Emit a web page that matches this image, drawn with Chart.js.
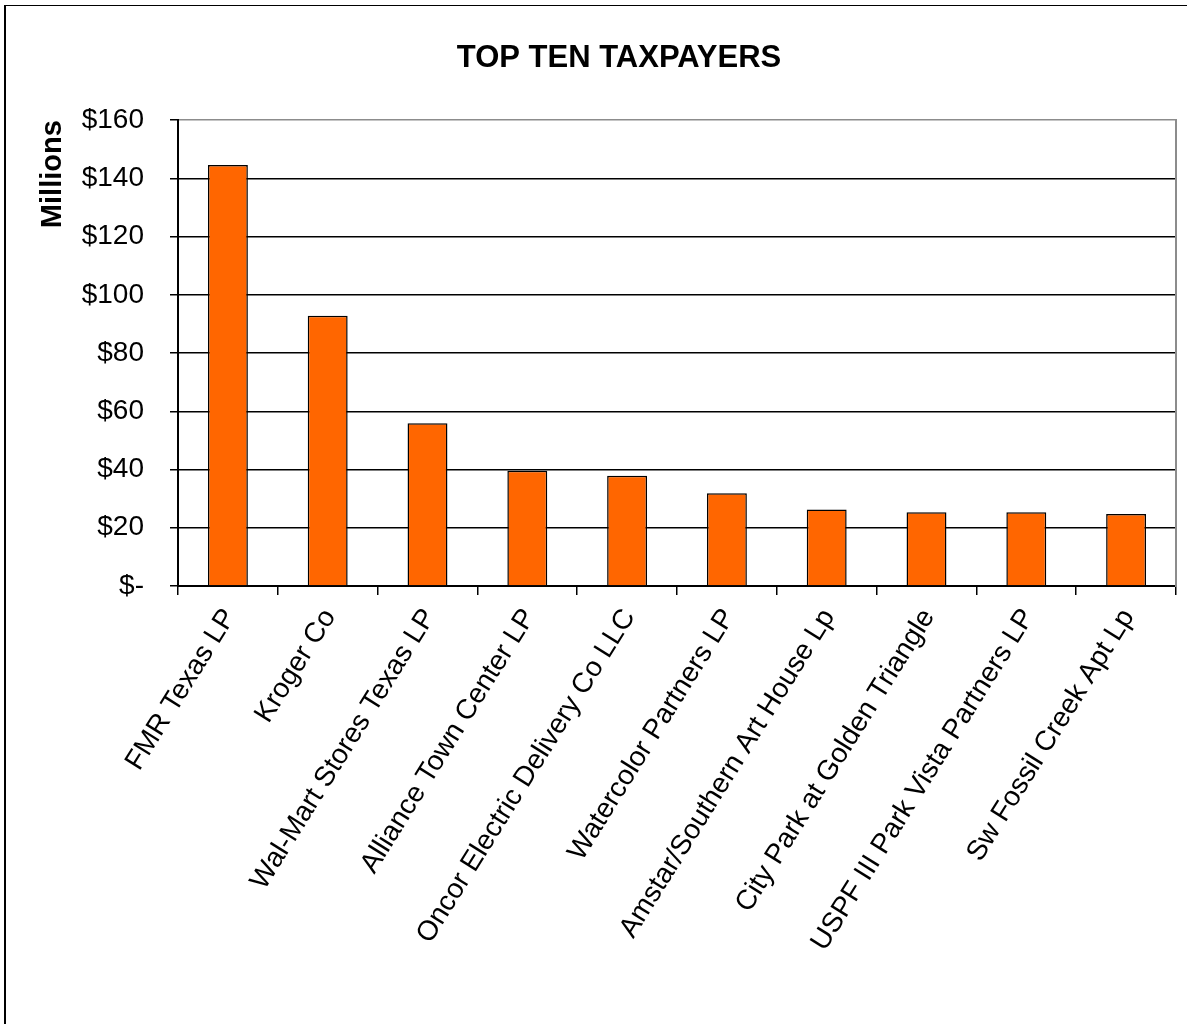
<!DOCTYPE html>
<html>
<head>
<meta charset="utf-8">
<title>Top Ten Taxpayers</title>
<script src="https://cdn.jsdelivr.net/npm/chart.js@4.4.1/dist/chart.umd.min.js"></script>
<style>
  html, body { margin: 0; padding: 0; background: #fff; overflow: hidden; }
  #frame {
    position: absolute; left: 4px; top: 5px; width: 2000px; height: 2000px;
    border-left: 2px solid #000; border-top: 1px solid #000;
  }
  #wrap { position: absolute; left: 0; top: 0; width: 1187px; height: 1024px; }
</style>
</head>
<body>
<div id="frame"></div>
<div id="wrap"><canvas id="chart"></canvas></div>
<script>
// Taxpayers and their values (millions of dollars)
const taxpayers = [
  "FMR Texas LP",
  "Kroger Co",
  "Wal-Mart Stores Texas LP",
  "Alliance Town Center LP",
  "Oncor Electric Delivery Co LLC",
  "Watercolor Partners LP",
  "Amstar/Southern Art House Lp",
  "City Park at Golden Triangle",
  "USPF III Park Vista Partners LP",
  "Sw Fossil Creek Apt Lp",
];
const taxValues = [144.6, 92.8, 55.9, 39.6, 37.9, 31.9, 26.3, 25.3, 25.3, 24.7];

// Y axis ticks
const yMin = 0;
const yMax = 160;
const yStep = 20;

Chart.defaults.font.family = "'Liberation Sans', Arial, sans-serif";
Chart.defaults.color = "#000";

const ctx = document.getElementById("chart").getContext("2d");

new Chart(ctx, {
  type: "bar",
  data: {
    labels: taxpayers,
    datasets: [
      {
        data: taxValues,
        backgroundColor: "#FF6600",
        borderColor: "#000",
        borderWidth: 1.5,
        barPercentage: 0.4,
        categoryPercentage: 1.0,
        yAxisID: "y",
      },
    ],
  },
  options: {
    responsive: true,
    maintainAspectRatio: false,
    animation: false,
    layout: {
      padding: { left: 62, right: 11, top: 0, bottom: 0 },
    },
    plugins: {
      legend: { display: false },
      tooltip: { enabled: false },
      title: {
        display: true,
        text: "TOP TEN TAXPAYERS",
        color: "#000",
        font: { size: 31, weight: "bold" },
        padding: { top: 40, bottom: 43 },
      },
    },
    scales: {
      x: {
        grid: {
          display: true,
          drawOnChartArea: false,
          drawTicks: true,
          tickLength: 9,
          color: "#000",
          lineWidth: 1.5,
          offset: true,
        },
        border: { display: true, color: "#000", width: 2 },
        ticks: {
          autoSkip: false,
          minRotation: 58,
          maxRotation: 58,
          padding: 8,
          labelOffset: 2,
          color: "#000",
          font: { size: 28 },
        },
        afterFit: (scale) => {
          scale.height = 438;
        },
      },
      y: {
        position: "left",
        min: yMin,
        max: yMax,
        grid: {
          color: (c) => (c.tick && c.tick.value === yMax ? "#8c8c8c" : "#000"),
          tickColor: "#000",
          lineWidth: 1.5,
          tickLength: 8,
        },
        border: { display: true, color: "#000", width: 2 },
        ticks: {
          stepSize: yStep,
          padding: 26,
          color: "#000",
          font: { size: 28 },
          callback: (value) => (value === 0 ? "$-" : "$" + value),
        },
        title: {
          display: true,
          text: "Millions",
          align: "end",
          color: "#000",
          font: { size: 29, weight: "bold" },
          padding: { top: -26.4, bottom: 0 },
        },
        afterFit: (scale) => {
          scale.width = 116;
        },
      },
      // right-hand plot border
      y2: {
        position: "right",
        min: yMin,
        max: yMax,
        grid: { display: false },
        ticks: { display: false },
        border: { display: true, color: "#8c8c8c", width: 2 },
        afterFit: (scale) => {
          scale.width = 0;
        },
      },
    },
  },
});
</script>
</body>
</html>
